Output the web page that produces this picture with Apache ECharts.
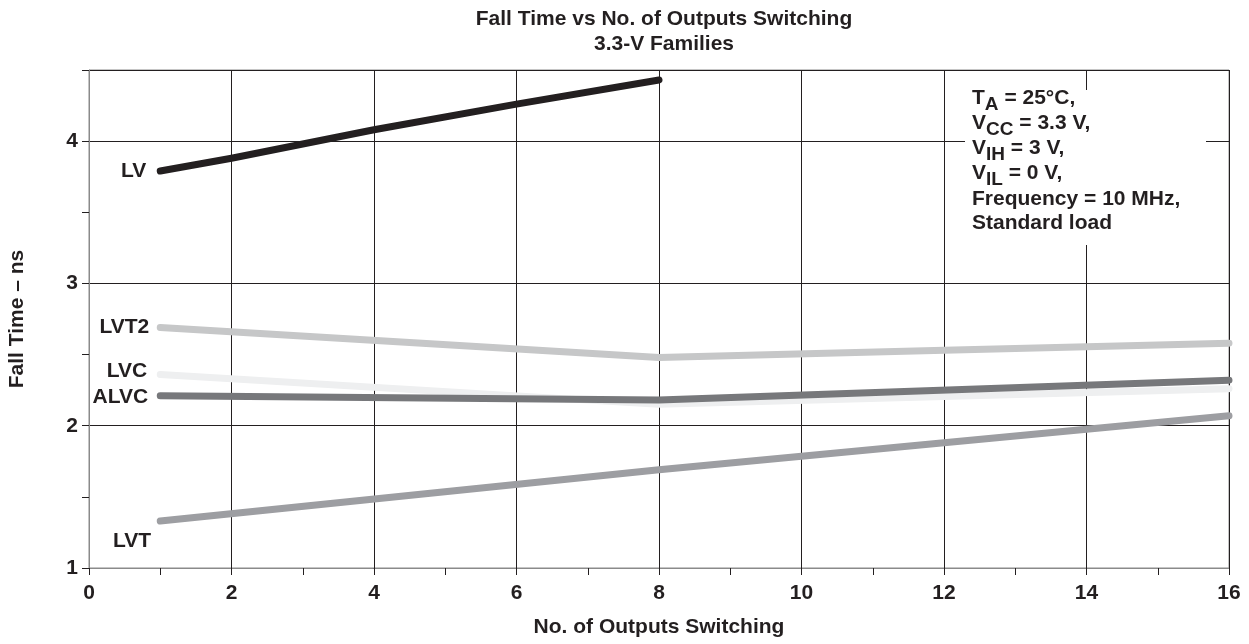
<!DOCTYPE html>
<html>
<head>
<meta charset="utf-8">
<script src="https://cdn.jsdelivr.net/npm/echarts@6/dist/echarts.min.js"></script>
<style>
  html, body { margin: 0; padding: 0; background: #fff; }
  #chart { width: 1249px; height: 644px; }
</style>
</head>
<body>
<div id="chart"></div>
<script>
// Fall time (ns) against number of outputs switching, 3.3-V logic families
const xTicks = [0, 2, 4, 6, 8, 10, 12, 14, 16];
const yTicks = [1, 2, 3, 4];

const lv   = [[1, 3.79], [2, 3.88], [4, 4.08], [6, 4.26], [8, 4.43]];
const lvt2 = [[1, 2.69], [8, 2.48], [12, 2.53], [16, 2.58]];
const lvc  = [[1, 2.36], [8, 2.15], [16, 2.26]];
const alvc = [[1, 2.21], [8, 2.18], [16, 2.32]];
const lvt  = [[1, 1.33], [8, 1.69], [16, 2.07]];

const conditions = [
  [['T', 'A'], ' = 25°C,'],
  [['V', 'CC'], ' = 3.3 V,'],
  [['V', 'IH'], ' = 3 V,'],
  [['V', 'IL'], ' = 0 V,'],
  [['Frequency = 10 MHz,', ''], ''],
  [['Standard load', ''], '']
];

const FONT = '"Liberation Sans", Arial, sans-serif';
const INK = '#231f20';
const FS = 21;

function family(name, data, color, distance, labelOffset) {
  return {
    name: name,
    type: 'line',
    data: data,
    symbol: 'circle',
    symbolSize: 0.1,
    showSymbol: true,
    itemStyle: { color: 'rgba(0,0,0,0)' },
    lineStyle: { color: color, width: 7, cap: 'round', join: 'round' },
    emphasis: { disabled: true },
    animation: false,
    z: 3,
    label: {
      show: true,
      position: 'left',
      distance: distance,
      offset: labelOffset || [0, 0],
      color: INK,
      fontFamily: FONT,
      fontWeight: 'bold',
      fontSize: FS,
      formatter: p => (p.dataIndex === 0 ? name : '')
    }
  };
}

// white panel behind the test conditions
const condGraphics = [
  {
    type: 'rect',
    shape: { x: 965, y: 90, width: 241, height: 155 },
    style: { fill: '#fff' },
    z: 10
  }
];
const rowTop = [88, 113, 138, 163, 189, 213];
conditions.forEach((row, i) => {
  const [[main, sub], rest] = row;
  condGraphics.push({
    type: 'text',
    left: 972,
    top: rowTop[i],
    z: 11,
    style: {
      rich: {
        m: { fontFamily: FONT, fontWeight: 'bold', fontSize: FS, fill: INK, verticalAlign: 'top', lineHeight: 22 },
        s: { fontFamily: FONT, fontWeight: 'bold', fontSize: 19, fill: INK, verticalAlign: 'top', lineHeight: 22, padding: [7, 0, 0, 0] }
      },
      text: '{m|' + main + '}' + (sub ? '{s|' + sub + '}' : '') + (rest ? '{m|' + rest + '}' : '')
    }
  });
});

const chart = echarts.init(document.getElementById('chart'), null, { renderer: 'canvas' });
chart.setOption({
  backgroundColor: '#fff',
  animation: false,
  title: {
    text: 'Fall Time vs No. of Outputs Switching\n3.3-V Families',
    left: 659,
    top: 2,
    textAlign: 'center',
    textStyle: { fontFamily: FONT, fontWeight: 'bold', fontSize: 21, color: INK, lineHeight: 25 }
  },
  grid: {
    left: 89, right: 20, top: 70, bottom: 76,
    outerBoundsMode: 'none',
    containLabel: false,
    show: true, borderColor: '#8a8a8a', borderWidth: 1, backgroundColor: 'transparent'
  },
  xAxis: {
    type: 'value',
    min: xTicks[0],
    max: xTicks[xTicks.length - 1],
    interval: xTicks[1] - xTicks[0],
    name: 'No. of Outputs Switching',
    nameLocation: 'middle',
    nameGap: 49,
    nameTextStyle: { fontFamily: FONT, fontWeight: 'bold', fontSize: FS, color: INK },
    axisLine: { show: true, lineStyle: { color: '#8a8a8a', width: 1 } },
    axisTick: { show: true, length: 7, lineStyle: { color: INK } },
    minorTick: { show: true, splitNumber: 2, length: 7, lineStyle: { color: INK } },
    axisLabel: { margin: 15, fontFamily: FONT, fontWeight: 'bold', fontSize: FS, color: INK },
    splitLine: { show: true, lineStyle: { color: INK, width: 1 } }
  },
  yAxis: {
    type: 'value',
    min: yTicks[0],
    max: 4.5,
    interval: yTicks[1] - yTicks[0],
    name: 'Fall Time – ns',
    nameLocation: 'middle',
    nameGap: 61,
    nameTextStyle: { fontFamily: FONT, fontWeight: 'bold', fontSize: FS, color: INK },
    axisLine: { show: true, lineStyle: { color: '#8a8a8a', width: 1 } },
    axisTick: { show: true, length: 7, lineStyle: { color: INK } },
    minorTick: { show: true, splitNumber: 2, length: 7, lineStyle: { color: INK } },
    axisLabel: {
      margin: 11, fontFamily: FONT, fontWeight: 'bold', fontSize: FS, color: INK,
      formatter: v => (yTicks.indexOf(v) >= 0 ? String(v) : '')
    },
    splitLine: { show: true, lineStyle: { color: INK, width: 1 } }
  },
  series: [
    family('LV', lv, '#231f20', 14),
    family('LVT2', lvt2, '#c6c7c8', 11),
    family('LVC', lvc, '#eeeff0', 13, [0, -3]),
    family('ALVC', alvc, '#77787b', 12, [0, 1]),
    family('LVT', lvt, '#9d9ea2', 9, [0, 20])
  ],
  graphic: condGraphics
});
</script>
</body>
</html>
